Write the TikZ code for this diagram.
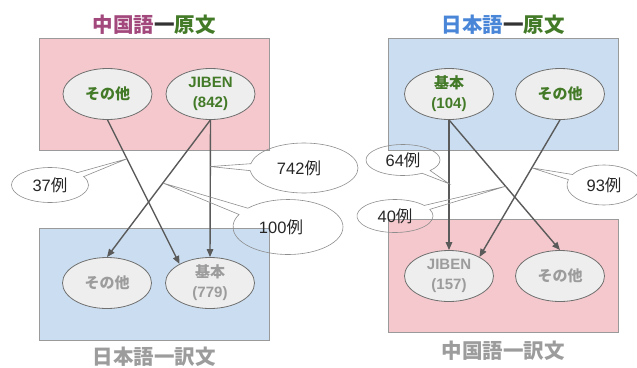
\documentclass[tikz,border=0pt]{standalone}
\usepackage{fontspec}
\setmainfont{Liberation Sans}
\newfontfamily\cjk{Noto Sans CJK JP}
\usetikzlibrary{shapes.geometric,shapes.callouts,arrows.meta,calc}
\definecolor{pinkfill}{HTML}{F4C8CC}
\definecolor{bluefill}{HTML}{CBDEF1}
\definecolor{boxline}{HTML}{9A9A9A}
\definecolor{ellfill}{HTML}{EEEEEE}
\definecolor{elline}{HTML}{707070}
\definecolor{txtgreen}{HTML}{437A27}
\definecolor{txtgray}{HTML}{9C9C9C}
\definecolor{txtpurple}{HTML}{A2487C}
\definecolor{txtblue}{HTML}{4A86D8}
\definecolor{txtdark}{HTML}{333333}
\definecolor{arrowc}{HTML}{5A5A5A}
\begin{document}
\begin{tikzpicture}[x=1pt,y=-1pt,
  bigbox/.style={draw=boxline,line width=1pt,minimum width=230pt,minimum height=112pt,anchor=north west,inner sep=0pt},
  ell/.style={ellipse,draw=elline,fill=ellfill,line width=0.8pt,minimum width=89pt,minimum height=51pt,inner sep=0pt,align=center,font=\fontsize{15}{20}\selectfont\bfseries},
  topt/.style={ell,text=txtgreen},
  bott/.style={ell,text=txtgray},
  arr/.style={draw=arrowc,line width=1.4pt,-{Triangle[length=8pt,width=6.5pt]}},
  bubble/.style={ellipse callout,draw=elline!80,line width=0.6pt,inner sep=0pt,callout pointer arc=16,font=\fontsize{16.5}{19}\selectfont,text=black!85},
  ttl/.style={font=\fontsize{20.5}{24}\selectfont\bfseries\cjk,inner sep=0pt}
]
\useasboundingbox (0,0) rectangle (637,367);
% boxes
\node[bigbox,fill=pinkfill] (LT) at (39,38) {};
\node[bigbox,fill=bluefill,minimum height=112pt] (LB) at (39,228) {};
\node[bigbox,fill=bluefill] (RT) at (388,38) {};
\node[bigbox,fill=pinkfill,minimum height=113pt] (RB) at (388,219) {};
% titles
\node[ttl] (tLT) at (154,25) {\textcolor{txtpurple}{中国語}\textcolor{txtdark}{一}\textcolor{txtgreen}{原文}};
\node[ttl,text=txtgray] (tLB) at (154,356.5) {日本語一訳文};
\node[ttl] (tRT) at (503,25) {\textcolor{txtblue}{日本語}\textcolor{txtdark}{一}\textcolor{txtgreen}{原文}};
\node[ttl,text=txtgray] (tRB) at (503,351) {中国語一訳文};
% ellipses
\node[topt] (LTo) at (107.5,94) {\cjk その他};
\node[topt] (LTj) at (210.5,94) {JIBEN\\(842)};
\node[bott] (LBo) at (107,283) {\cjk その他};
\node[bott] (LBk) at (210,283) {{\cjk 基本}\\(779)};
\node[topt] (RTk) at (449,94) {{\cjk 基本}\\(104)};
\node[topt] (RTo) at (560,94) {\cjk その他};
\node[bott] (RBj) at (449,276) {JIBEN\\(157)};
\node[bott] (RBo) at (560,276) {\cjk その他};
% arrows
\draw[arr] (LTo.south) -- (LBk.148);
\draw[arr] (LTj.south) -- (LBo.north);
\draw[arr] (LTj.south) -- (LBk.north);
\draw[arr] (RTk.south) -- (RBj.north);
\draw[arr] (RTk.south) -- (RBo.north);
\draw[arr] (RTo.south) -- (RBj.32);
% pointer targets
\coordinate (p37) at ($(LTo.south)!0.27!(LBk.148)$);
\coordinate (p742) at ($(LTj.south)!0.34!(LBk.north)$);
\coordinate (p100) at ($(LTj.south)!0.46!(LBo.north)$);
\coordinate (p64) at ($(RTk.south)!0.49!(RBj.north)$);
\coordinate (p40) at ($(RTk.south)!0.51!(RBo.north)$);
\coordinate (p93) at ($(RTo.south)!0.35!(RBj.32)$);
% callouts
\node[bubble,minimum width=77pt,minimum height=35pt,callout absolute pointer={(p37)}] (c37) at (50,185) {37{\cjk 例}};
\node[bubble,minimum width=108pt,minimum height=50pt,callout absolute pointer={(p742)}] (c742) at (304,168) {742{\cjk 例}\hspace*{10pt}};
\node[bubble,minimum width=110pt,minimum height=55pt,callout absolute pointer={(p100)}] (c100) at (288,227) {100{\cjk 例}\hspace*{14pt}};
\node[bubble,minimum width=74pt,minimum height=31pt,callout absolute pointer={(p64)}] (c64) at (403,160) {64{\cjk 例}};
\node[bubble,minimum width=76pt,minimum height=33pt,callout absolute pointer={(p40)}] (c40) at (395,216) {40{\cjk 例}};
\node[bubble,minimum width=74pt,minimum height=40pt,callout absolute pointer={(p93)}] (c93) at (604,185) {93{\cjk 例}};
\end{tikzpicture}
\end{document}
